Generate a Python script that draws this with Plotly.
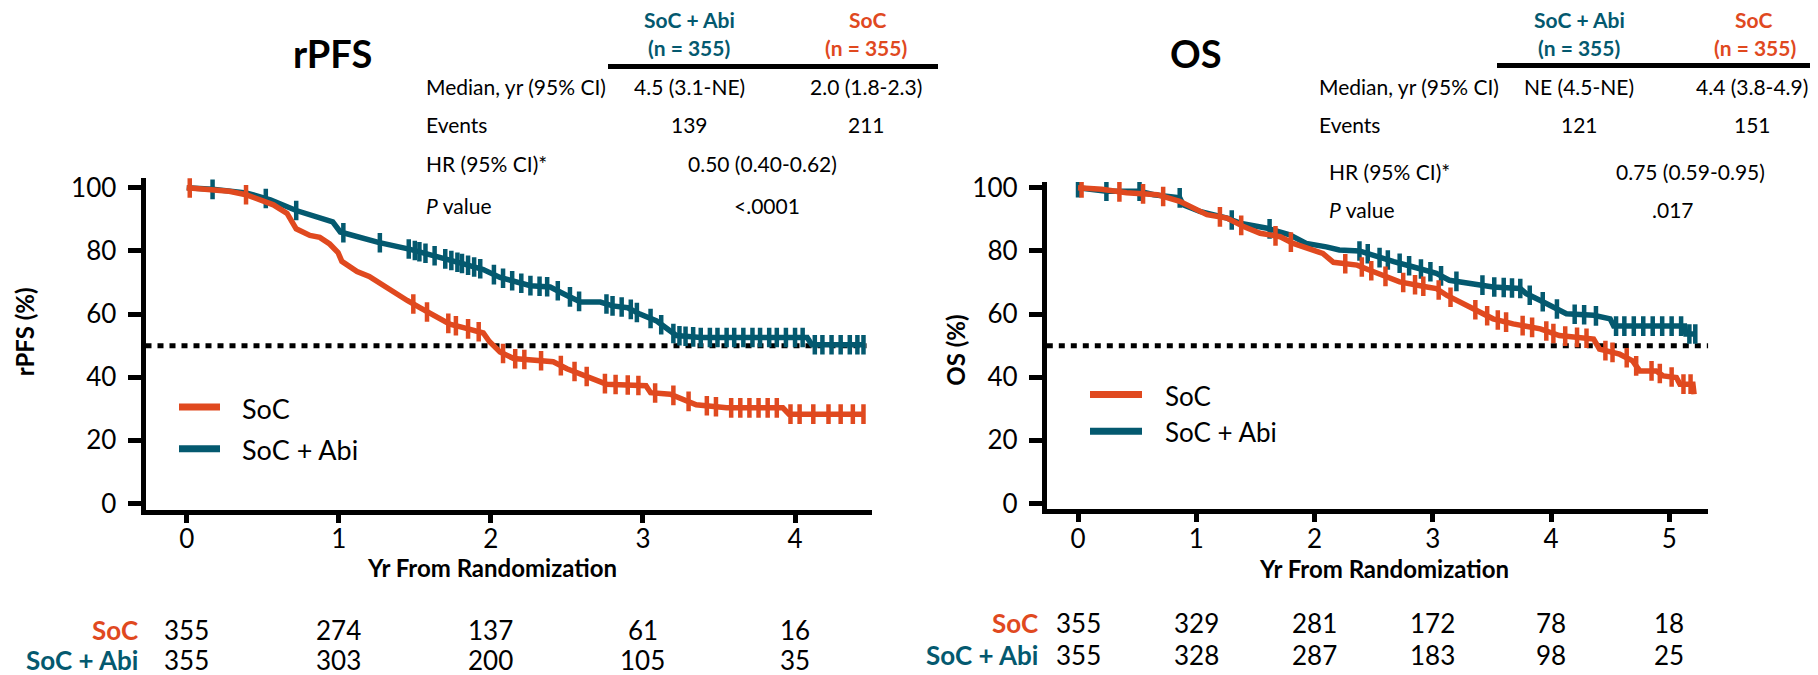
import numpy as np
import plotly.graph_objects as go

# page body has an 8px default margin: the figure is drawn 8px in from the top-left
OFF = 8
W, H = 1818 - OFF, 675 - OFF
SOC_COLOR = "#E0491F"
ABI_COLOR = "#04596F"
FONT = "Lato, 'Open Sans', sans-serif"

# ---------------- data ----------------
# rPFS Kaplan-Meier curves (years, %)
rpfs_abi_t = [0, 0.17, 0.39, 0.55, 0.72, 0.96, 1.01, 1.26, 1.47, 1.60, 1.69, 1.82, 1.95, 2.06, 2.26, 2.39,
              2.50, 2.59, 2.72, 2.80, 2.90, 2.98, 3.09, 3.16, 3.22, 3.38, 4.08, 4.11, 4.46]
rpfs_abi_s = [100, 99.5, 98.4, 96.2, 92.8, 89.2, 86.0, 82.7, 80.5, 78.9, 77.6, 75.9, 74.1, 71.6, 69.0, 68.6,
              65.9, 63.8, 63.8, 62.6, 62.0, 60.0, 57.8, 55.1, 53.2, 52.6, 52.6, 50.3, 50.3]
rpfs_soc_t = [0, 0.28, 0.39, 0.50, 0.57, 0.66, 0.72, 0.81, 0.875, 0.94, 0.995, 1.02, 1.12, 1.20, 1.27, 1.36,
              1.45, 1.53, 1.62, 1.73, 1.82, 1.95, 1.99, 2.06, 2.15, 2.28, 2.41, 2.50, 2.59, 2.67, 2.76, 3.02,
              3.05, 3.18, 3.27, 3.35, 3.55, 3.92, 3.96, 4.46]
rpfs_soc_s = [100, 98.9, 97.8, 95.7, 94.6, 91.9, 87.0, 84.9, 84.3, 82.2, 79.5, 76.7, 73.5, 71.9, 69.7, 67.0,
              64.3, 62.1, 59.5, 56.8, 55.7, 54.0, 51.3, 48.0, 45.9, 45.4, 44.9, 42.7, 41.1, 39.4, 37.8, 37.3,
              35.1, 34.6, 33.0, 31.3, 30.3, 30.3, 28.3, 28.3]
rpfs_abi_censor = [0.17, 0.52, 0.72, 1.03, 1.27, 1.46, 1.50, 1.53, 1.57, 1.63, 1.70, 1.74, 1.78, 1.81, 1.85,
                   1.89, 1.93, 2.02, 2.08, 2.14, 2.20, 2.26, 2.32, 2.37, 2.44, 2.52, 2.58, 2.76, 2.80, 2.86,
                   2.92, 2.96, 3.05, 3.12, 3.20, 3.24, 3.28, 3.33, 3.38, 3.44, 3.49, 3.55, 3.60, 3.66, 3.72,
                   3.77, 3.83, 3.88, 3.94, 4.00, 4.05, 4.13, 4.18, 4.24, 4.30, 4.36, 4.41, 4.45]
rpfs_soc_censor = [0.02, 0.39, 1.49, 1.58, 1.72, 1.77, 1.85, 1.92, 2.08, 2.16, 2.22, 2.33, 2.46, 2.55, 2.63,
                   2.75, 2.82, 2.90, 2.97, 3.08, 3.20, 3.30, 3.42, 3.48, 3.58, 3.64, 3.70, 3.76, 3.82, 3.88,
                   3.97, 4.03, 4.12, 4.22, 4.30, 4.38, 4.45]

# OS Kaplan-Meier curves (years, %)
os_abi_t = [0, 0.24, 0.52, 0.64, 0.86, 0.89, 1.03, 1.26, 1.37, 1.60, 1.79, 1.93, 2.10, 2.21, 2.38, 2.52,
            2.67, 2.83, 3.03, 3.14, 3.23, 3.34, 3.51, 3.74, 3.79, 3.91, 4.02, 4.13, 4.36, 4.50, 4.53, 5.13,
            5.14, 5.23]
os_abi_s = [100, 98.9, 98.9, 97.8, 96.8, 94.6, 92.5, 90.4, 88.8, 87.2, 85.1, 82.4, 81.3, 80.3, 80.0, 78.2,
            76.6, 75.0, 72.9, 70.7, 70.2, 69.7, 68.6, 68.1, 66.5, 64.3, 62.2, 60.1, 59.6, 58.5, 56.2, 56.2,
            53.7, 53.7]
os_soc_t = [0, 0.20, 0.41, 0.67, 0.86, 0.97, 1.09, 1.26, 1.40, 1.54, 1.71, 1.82, 1.93, 2.07, 2.16, 2.36,
            2.50, 2.72, 2.95, 3.03, 3.12, 3.29, 3.40, 3.51, 3.68, 3.91, 4.07, 4.36, 4.41, 4.58, 4.69, 4.75,
            4.89, 4.95, 5.06, 5.09, 5.20, 5.21]
os_soc_s = [100, 99.5, 98.4, 97.8, 95.7, 93.6, 91.5, 90.4, 87.7, 85.6, 84.5, 82.4, 80.8, 79.2, 76.4, 75.5,
            73.4, 70.2, 68.6, 68.1, 65.9, 62.7, 60.6, 58.5, 56.9, 55.3, 53.2, 52.1, 48.9, 47.3, 45.2, 42.0,
            42.0, 40.4, 39.9, 37.8, 37.8, 34.6]
os_abi_censor = [0.0, 0.24, 0.52, 0.86, 1.30, 1.62, 2.38, 2.45, 2.55, 2.62, 2.72, 2.80, 2.90, 2.98, 3.07,
                 3.20, 3.42, 3.52, 3.60, 3.67, 3.74, 3.82, 3.93, 4.05, 4.20, 4.28, 4.38, 4.55, 4.62, 4.70,
                 4.78, 4.86, 4.94, 5.02, 5.10, 5.17, 5.22]
os_soc_censor = [0.03, 0.35, 0.55, 0.72, 1.20, 1.38, 1.67, 1.80, 2.26, 2.40, 2.48, 2.60, 2.75, 2.85, 2.92,
                 3.05, 3.15, 3.36, 3.46, 3.55, 3.62, 3.76, 3.84, 3.96, 4.02, 4.12, 4.22, 4.30, 4.46, 4.52,
                 4.64, 4.72, 4.85, 4.92, 5.02, 5.12, 5.18]

# numbers at risk
rpfs_years = [0, 1, 2, 3, 4]
rpfs_risk_soc = [355, 274, 137, 61, 16]
rpfs_risk_abi = [355, 303, 200, 105, 35]
os_years = [0, 1, 2, 3, 4, 5]
os_risk_soc = [355, 329, 281, 172, 78, 18]
os_risk_abi = [355, 328, 287, 183, 98, 25]

y_ticks = [0, 20, 40, 60, 80, 100]

# summary tables
rpfs_table = [("Median, yr (95% CI)", "4.5 (3.1-NE)", "2.0 (1.8-2.3)"),
              ("Events", "139", "211")]
rpfs_hr = "0.50 (0.40-0.62)"
rpfs_p = "<.0001"
os_table = [("Median, yr (95% CI)", "NE (4.5-NE)", "4.4 (3.8-4.9)"),
            ("Events", "121", "151")]
os_hr = "0.75 (0.59-0.95)"
os_p = ".017"

# ---------------- helpers (screen pixel -> paper) ----------------
def px(x):
    return (x - OFF) / W

def py(y):
    return 1 - (y - OFF) / H

fig = go.Figure()

def add_curve(t, s, color, xa, ya):
    fig.add_trace(go.Scatter(x=t, y=s, mode="lines", xaxis=xa, yaxis=ya,
                             line=dict(color=color, width=5.5), showlegend=False, hoverinfo="skip"))

def add_censor(ct, t, s, color, xa, ya):
    cy = np.interp(ct, t, s)
    fig.add_trace(go.Scatter(x=ct, y=cy, mode="markers", xaxis=xa, yaxis=ya,
                             marker=dict(symbol="line-ns", size=14, color=color,
                                         line=dict(color=color, width=4.5)),
                             showlegend=False, hoverinfo="skip"))

add_curve(rpfs_abi_t, rpfs_abi_s, ABI_COLOR, "x", "y")
add_censor(rpfs_abi_censor, rpfs_abi_t, rpfs_abi_s, ABI_COLOR, "x", "y")
add_curve(rpfs_soc_t, rpfs_soc_s, SOC_COLOR, "x", "y")
add_censor(rpfs_soc_censor, rpfs_soc_t, rpfs_soc_s, SOC_COLOR, "x", "y")

add_curve(os_abi_t, os_abi_s, ABI_COLOR, "x2", "y2")
add_censor(os_abi_censor, os_abi_t, os_abi_s, ABI_COLOR, "x2", "y2")
add_curve(os_soc_t, os_soc_s, SOC_COLOR, "x2", "y2")
add_censor(os_soc_censor, os_soc_t, os_soc_s, SOC_COLOR, "x2", "y2")

# ---------------- axes ----------------
common = dict(showgrid=False, zeroline=False, showline=True, linecolor="black", linewidth=5,
              ticks="outside", tickcolor="black", tickwidth=5,
              tickfont=dict(family=FONT, size=26, color="black"))

L_XR = [-0.271, 4.506]; L_YR = [-1.94, 103.2]
R_XR = [-0.264, 5.33]; R_YR = [-1.85, 101.8]
# screen pixel positions of the plot areas
Y100, Y0 = 182.0, 507.5
k = (Y0 - Y100) / 100.0
L_X = [145.5, 872.0]; L_Y = [Y100 - (L_YR[1] - 100) * k, Y0 - L_YR[0] * k]
R_X = [1046.8, 1708.3]; R_Y = [Y100 - (R_YR[1] - 100) * k, Y0 - R_YR[0] * k]

fig.update_layout(
    width=W, height=H, margin=dict(l=0, r=0, t=0, b=0),
    paper_bgcolor="white", plot_bgcolor="white",
    xaxis=dict(domain=[px(L_X[0]), px(L_X[1])], range=L_XR, tickvals=rpfs_years, ticklen=8,
               anchor="y", ticklabelstandoff=-6, **common),
    yaxis=dict(domain=[py(L_Y[1]), py(L_Y[0])], range=L_YR, tickvals=y_ticks, ticklen=13,
               anchor="x", ticklabelstandoff=6, **common),
    xaxis2=dict(domain=[px(R_X[0]), px(R_X[1])], range=R_XR, tickvals=os_years, ticklen=8,
                anchor="y2", ticklabelstandoff=-6, **common),
    yaxis2=dict(domain=[py(R_Y[1]), py(R_Y[0])], range=R_YR, tickvals=y_ticks, ticklen=13,
                anchor="x2", ticklabelstandoff=6, **common),
)

shapes = []
# 50% dotted reference lines
shapes.append(dict(type="line", xref="x", yref="y", x0=L_XR[0], x1=4.47, y0=50, y1=50, layer="below",
                   line=dict(color="black", width=5, dash="6px,6px")))
shapes.append(dict(type="line", xref="x2", yref="y2", x0=R_XR[0], x1=R_XR[1], y0=50, y1=50, layer="below",
                   line=dict(color="black", width=5, dash="6px,6px")))
# table header rules
shapes.append(dict(type="line", xref="paper", yref="paper", x0=px(608), x1=px(938), y0=py(57), y1=py(57),
                   line=dict(color="black", width=5)))
shapes.append(dict(type="line", xref="paper", yref="paper", x0=px(1497), x1=px(1818), y0=py(56), y1=py(56),
                   line=dict(color="black", width=5)))
# legend samples
for (x0, x1, y, c) in [(179, 220, 408, SOC_COLOR), (179, 220, 451, ABI_COLOR),
                       (1090, 1142, 395, SOC_COLOR), (1090, 1142, 433, ABI_COLOR)]:
    shapes.append(dict(type="line", xref="paper", yref="paper", x0=px(x0), x1=px(x1), y0=py(y), y1=py(y),
                       line=dict(color=c, width=7)))
fig.update_layout(shapes=shapes)

ann = []

def txt(text, x, y, size, color="black", bold=False, xanchor="center", angle=0, xref="paper"):
    if bold:
        text = "<b>" + text + "</b>"
    ann.append(dict(text=text, x=(px(x) if xref == "paper" else x), y=py(y), xref=xref, yref="paper",
                    xanchor=xanchor, yanchor="middle", showarrow=False, textangle=angle,
                    font=dict(family=FONT, size=size, color=color)))

# titles
txt("rPFS", 332, 43, 38, bold=True)
txt("OS", 1196, 43, 38, bold=True)

# rPFS summary table
txt("SoC + Abi", 689, 9, 21, ABI_COLOR, bold=True)
txt("(n = 355)", 689, 37, 21, ABI_COLOR, bold=True)
txt("SoC", 867, 9, 21, SOC_COLOR, bold=True)
txt("(n = 355)", 866, 37, 21, SOC_COLOR, bold=True)
for (lab, a, b), yy in zip(rpfs_table, [78, 117]):
    txt(lab, 424, yy, 21, xanchor="left")
    txt(a, 689, yy, 21)
    txt(b, 866, yy, 21)
txt("HR (95% CI)*", 424, 157, 21, xanchor="left")
txt(rpfs_hr, 762, 157, 21)
txt("<i>P</i> value", 424, 200, 21, xanchor="left")
txt(rpfs_p, 767, 200, 21)

# OS summary table
txt("SoC + Abi", 1579, 9, 21, ABI_COLOR, bold=True)
txt("(n = 355)", 1579, 37, 21, ABI_COLOR, bold=True)
txt("SoC", 1753, 9, 21, SOC_COLOR, bold=True)
txt("(n = 355)", 1755, 37, 21, SOC_COLOR, bold=True)
for (lab, a, b), yy in zip(os_table, [78, 117]):
    txt(lab, 1317, yy, 21, xanchor="left")
    txt(a, 1579, yy, 21)
    txt(b, 1752, yy, 21)
txt("HR (95% CI)*", 1327, 165, 21, xanchor="left")
txt(os_hr, 1690, 165, 21)
txt("<i>P</i> value", 1327, 204, 21, xanchor="left")
txt(os_p, 1673, 204, 21)

# axis titles
txt("rPFS (%)", 24, 331, 24, bold=True, angle=-90)
txt("OS (%)", 956, 350, 24, bold=True, angle=-90)
txt("Yr From Randomization", 492, 573, 24, bold=True)
txt("Yr From Randomization", 1384, 574, 24, bold=True)

# legends
txt("SoC", 240, 410, 27, xanchor="left")
txt("SoC + Abi", 240, 452, 27, xanchor="left")
txt("SoC", 1163, 397, 26, xanchor="left")
txt("SoC + Abi", 1163, 434, 26, xanchor="left")

# numbers at risk
txt("SoC", 140, 638, 26, SOC_COLOR, bold=True, xanchor="right")
txt("SoC + Abi", 140, 669, 26, ABI_COLOR, bold=True, xanchor="right")
for t, a, b in zip(rpfs_years, rpfs_risk_soc, rpfs_risk_abi):
    txt(str(a), t, 638, 26, xref="x")
    txt(str(b), t, 669, 26, xref="x")
txt("SoC", 1040, 631, 26, SOC_COLOR, bold=True, xanchor="right")
txt("SoC + Abi", 1040, 664, 26, ABI_COLOR, bold=True, xanchor="right")
for t, a, b in zip(os_years, os_risk_soc, os_risk_abi):
    txt(str(a), t, 631, 26, xref="x2")
    txt(str(b), t, 664, 26, xref="x2")

fig.update_layout(annotations=ann)
fig.write_html("out.html")
